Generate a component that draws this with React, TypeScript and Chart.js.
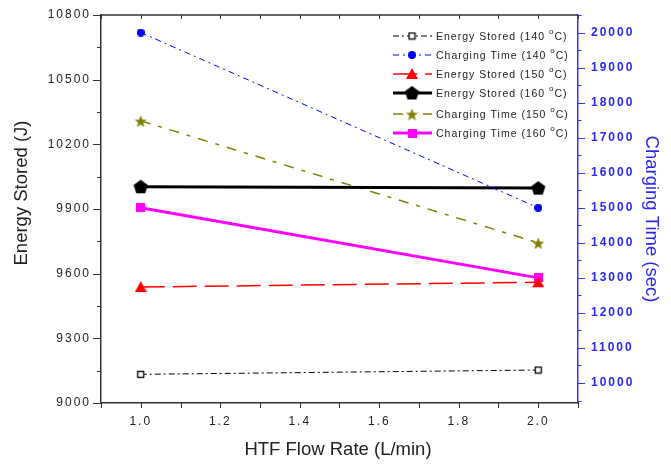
import React, { useEffect, useRef } from "react";
import { Chart, registerables } from "chart.js";
Chart.register(...registerables);

const flowRates = [1.0, 2.0];
const energy140 = [9133, 9153];
const time140 = [20000, 15000];
const energy150 = [9538, 9560];
const energy160 = [10003, 9997];
const time150 = [17480, 14000];
const time160 = [15000, 13000];
const xLabelTicks = [1.0, 1.2, 1.4, 1.6, 1.8, 2.0];
const xTitle = "HTF Flow Rate (L/min)";
const yTitle = "Energy Stored (J)";
const y1Title = "Charging Time (sec)";

function makeMarker(kind: string, color: string, size: number): HTMLCanvasElement {
  const c = document.createElement("canvas");
  c.width = size;
  c.height = size;
  const ctx = c.getContext("2d")!;
  const cx = size / 2, cy = size / 2;
  ctx.fillStyle = color;
  ctx.strokeStyle = color;
  if (kind === "openSquare") {
    ctx.fillStyle = "#fff";
    ctx.fillRect(1, 1, size - 2, size - 2);
    ctx.lineWidth = 1.3;
    ctx.strokeRect(1.5, 1.5, size - 3, size - 3);
  } else if (kind === "square") {
    ctx.fillRect(0, 0, size, size);
  } else if (kind === "circle") {
    ctx.beginPath();
    ctx.arc(cx, cy, size / 2, 0, Math.PI * 2);
    ctx.fill();
  } else if (kind === "triangle") {
    ctx.beginPath();
    ctx.moveTo(cx, 0);
    ctx.lineTo(size, size - 1);
    ctx.lineTo(0, size - 1);
    ctx.closePath();
    ctx.fill();
  } else if (kind === "pentagon") {
    const r = size / 2;
    ctx.beginPath();
    for (let i = 0; i < 5; i++) {
      const a = -Math.PI / 2 + (i * 2 * Math.PI) / 5;
      const px = cx + r * Math.cos(a), py = cy + 0.5 + r * Math.sin(a);
      if (i === 0) ctx.moveTo(px, py); else ctx.lineTo(px, py);
    }
    ctx.closePath();
    ctx.fill();
  } else if (kind === "star") {
    const r = size / 2, r2 = r * 0.42;
    ctx.beginPath();
    for (let i = 0; i < 10; i++) {
      const a = -Math.PI / 2 + (i * Math.PI) / 5;
      const rr = i % 2 === 0 ? r : r2;
      const px = cx + rr * Math.cos(a), py = cy + 1 + rr * Math.sin(a);
      if (i === 0) ctx.moveTo(px, py); else ctx.lineTo(px, py);
    }
    ctx.closePath();
    ctx.fill();
  }
  return c;
}

const FONT = "'Liberation Sans', Arial, sans-serif";

const spacingPlugin = {
  id: "letterSpacing",
  beforeDraw(chart: any) {
    (chart.ctx as any).letterSpacing = "2px";
  },
};

const legendPlugin = {
  id: "insideLegend",
  afterDraw(chart: any) {
    const ctx = chart.ctx;
    const area = chart.chartArea;
    ctx.save();
    const rowY = [36, 55, 74, 93, 114, 133];
    const x0 = 393, x1 = 432, mx = 412, tx = 436;
    chart.data.datasets.forEach((ds: any, i: number) => {
      const y = rowY[i];
      ctx.save();
      ctx.strokeStyle = ds.borderColor;
      ctx.lineWidth = ds.borderWidth;
      ctx.setLineDash(ds.borderDash || []);
      ctx.beginPath();
      ctx.moveTo(x0, y);
      ctx.lineTo(x1, y);
      ctx.stroke();
      ctx.restore();
      const img = ds.pointStyle as HTMLCanvasElement;
      ctx.drawImage(img, mx - img.width / 2, y - img.height / 2);
      const parts = String(ds.label).split("°");
      ctx.fillStyle = "#222";
      ctx.textBaseline = "middle";
      ctx.textAlign = "left";
      (ctx as any).letterSpacing = "1px";
      ctx.font = "10.5px " + FONT;
      let x = tx;
      ctx.fillText(parts[0], x, y + 1);
      x += ctx.measureText(parts[0]).width;
      ctx.font = "8px " + FONT;
      ctx.fillText("o", x, y - 4);
      x += ctx.measureText("o").width;
      ctx.font = "10.5px " + FONT;
      ctx.fillText(parts[1] || "", x, y + 1);
    });
    (ctx as any).letterSpacing = "0px";
    // axis titles
    ctx.textAlign = "center";
    ctx.textBaseline = "middle";
    ctx.font = "18.5px " + FONT;
    ctx.fillStyle = "#222";
    ctx.fillText(xTitle, 338, 450);
    ctx.save();
    ctx.translate(22, 193);
    ctx.rotate(-Math.PI / 2);
    ctx.fillText(yTitle, 0, 0);
    ctx.restore();
    ctx.save();
    ctx.fillStyle = "#2a2aee";
    ctx.translate(651, 219);
    ctx.rotate(Math.PI / 2);
    ctx.fillText(y1Title, 0, 0);
    ctx.restore();
    // frame and ticks
    ctx.strokeStyle = "#333";
    ctx.lineWidth = 1.5;
    ctx.beginPath();
    ctx.moveTo(area.left, area.top);
    ctx.lineTo(area.right, area.top);
    ctx.stroke();
    const xs = chart.scales.x;
    ctx.lineWidth = 1;
    ctx.beginPath();
    xs.ticks.forEach((t: any) => {
      const px = Math.round(xs.getPixelForValue(t.value)) + 0.5;
      ctx.moveTo(px, area.top);
      ctx.lineTo(px, area.top + 4);
      ctx.moveTo(px, area.bottom);
      ctx.lineTo(px, area.bottom + 5);
    });
    ctx.stroke();
    const ys = chart.scales.y;
    ctx.beginPath();
    ys.ticks.forEach((t: any) => {
      const py = Math.round(ys.getPixelForValue(t.value)) + 0.5;
      const len = t.value % 300 === 0 ? 8 : 4;
      ctx.moveTo(area.left, py);
      ctx.lineTo(area.left - len, py);
    });
    ctx.stroke();
    const y1 = chart.scales.y1;
    ctx.strokeStyle = "#3333ff";
    ctx.beginPath();
    y1.ticks.forEach((t: any) => {
      const py = Math.round(y1.getPixelForValue(t.value)) + 0.5;
      const len = t.value % 1000 === 0 ? 7 : 3.5;
      ctx.moveTo(area.right, py);
      ctx.lineTo(area.right + len, py);
    });
    ctx.stroke();
    ctx.restore();
  },
};

export default function App() {
  const ref = useRef<HTMLCanvasElement>(null);
  useEffect(() => {
    document.body.style.margin = "0";
    const pts = (ys: number[]) => flowRates.map((x, i) => ({ x, y: ys[i] }));
    const chart = new Chart(ref.current!, {
      type: "line",
      data: {
        datasets: [
          {
            label: "Energy Stored (140 °C)",
            data: pts(energy140),
            yAxisID: "y",
            borderColor: "#000",
            backgroundColor: "#000",
            borderWidth: 1,
            borderDash: [6, 3, 2, 3],
            pointStyle: makeMarker("openSquare", "#000", 9),
          },
          {
            label: "Charging Time (140 °C)",
            data: pts(time140),
            yAxisID: "y1",
            borderColor: "#0000ff",
            backgroundColor: "#0000ff",
            borderWidth: 1,
            borderDash: [6, 4, 2, 4],
            pointStyle: makeMarker("circle", "#0000ff", 8),
          },
          {
            label: "Energy Stored (150 °C)",
            data: pts(energy150),
            yAxisID: "y",
            borderColor: "#ff0000",
            backgroundColor: "#ff0000",
            borderWidth: 1.5,
            borderDash: [24, 8],
            pointStyle: makeMarker("triangle", "#ff0000", 12),
          },
          {
            label: "Energy Stored (160 °C)",
            data: pts(energy160),
            yAxisID: "y",
            borderColor: "#000",
            backgroundColor: "#000",
            borderWidth: 3,
            pointStyle: makeMarker("pentagon", "#000", 15),
          },
          {
            label: "Charging Time (150 °C)",
            data: pts(time150),
            yAxisID: "y1",
            borderColor: "#808000",
            backgroundColor: "#808000",
            borderWidth: 1.5,
            borderDash: [10, 8, 4, 8],
            pointStyle: makeMarker("star", "#808000", 13),
          },
          {
            label: "Charging Time (160 °C)",
            data: pts(time160),
            yAxisID: "y1",
            borderColor: "#ff00ff",
            backgroundColor: "#ff00ff",
            borderWidth: 3,
            pointStyle: makeMarker("square", "#ff00ff", 9),
          },
        ] as any,
      },
      options: {
        animation: false,
        responsive: false,
        layout: { padding: { top: 15, left: 0, right: 0, bottom: 0 } },
        plugins: { legend: { display: false }, tooltip: { enabled: false } },
        scales: {
          x: {
            type: "linear",
            min: 0.9,
            max: 2.1,
            afterFit: (s: any) => { s.height = 61; },
            afterBuildTicks: (s: any) => {
              const t = [];
              for (let i = 9; i <= 21; i++) t.push({ value: i / 10 });
              s.ticks = t;
            },
            ticks: {
              color: "#222",
              font: { family: FONT, size: 12 },
              padding: 3,
              maxRotation: 0,
              autoSkip: false,
              callback: (v: any) => {
                const n = Math.round(Number(v) * 10) / 10;
                return xLabelTicks.some((t) => Math.abs(t - n) < 1e-6) ? n.toFixed(1) : "";
              },
            },
            grid: { display: false },
            border: { display: true, color: "#333", width: 1.5 },
            title: { display: false },
          },
          y: {
            position: "left",
            min: 9000,
            max: 10800,
            afterFit: (s: any) => { s.width = 101; },
            afterBuildTicks: (s: any) => {
              const t = [];
              for (let v = 9000; v <= 10800; v += 150) t.push({ value: v });
              s.ticks = t;
            },
            ticks: {
              color: "#222",
              font: { family: FONT, size: 12 },
              padding: 2,
              autoSkip: false,
              callback: (v: any) => (Number(v) % 300 === 0 ? String(v) : ""),
            },
            grid: { display: false },
            border: { display: true, color: "#333", width: 1.5 },
            title: { display: false },
          },
          y1: {
            position: "right",
            min: 9430,
            max: 20500,
            afterFit: (s: any) => { s.width = 93; },
            afterBuildTicks: (s: any) => {
              const t = [];
              for (let v = 9500; v <= 20500; v += 500) t.push({ value: v });
              s.ticks = t;
            },
            ticks: {
              color: "#2a2aee",
              font: { family: FONT, size: 12, weight: "bold" },
              padding: 5,
              autoSkip: false,
              callback: (v: any) => (Number(v) % 1000 === 0 ? String(v) : ""),
            },
            grid: { display: false },
            border: { display: true, color: "#3333ff", width: 1.5 },
            title: { display: false },
          },
        },
      } as any,
      plugins: [spacingPlugin, legendPlugin],
    });
    return () => chart.destroy();
  }, []);
  return <canvas ref={ref} width={671} height={464} style={{ display: "block" }} />;
}
